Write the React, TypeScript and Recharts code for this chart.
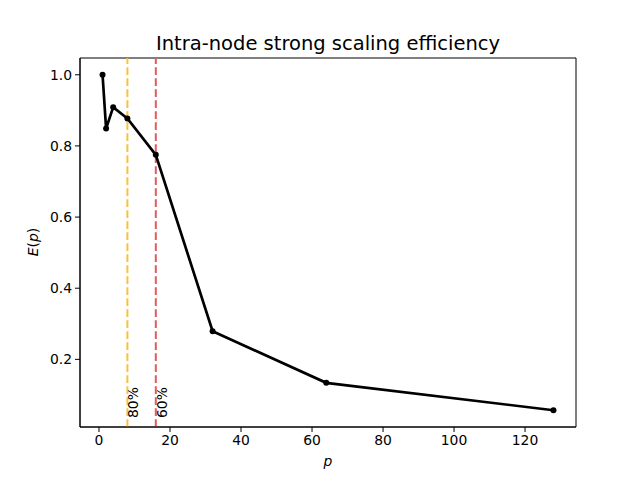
import { Line, LineChart, ReferenceArea, ReferenceLine, XAxis, YAxis } from "recharts";

const cores = [1, 2, 4, 8, 16, 32, 64, 128];
const efficiency = [1.0, 0.849, 0.909, 0.877, 0.775, 0.279, 0.134, 0.057];
const xTicks = [0, 20, 40, 60, 80, 100, 120];
const yTicks = [0.2, 0.4, 0.6, 0.8, 1.0];
const thresholds = [
  { p: 8, label: "80%", color: "#fbc13a" },
  { p: 16, label: "60%", color: "#e35a5c" },
];

const data = cores.map((p, i) => ({ p, e: efficiency[i] }));

// matplotlib-style 5% margins around the data
const xMin = Math.min(...cores);
const xMax = Math.max(...cores);
const yMin = Math.min(...efficiency);
const yMax = Math.max(...efficiency);
const xPad = (xMax - xMin) * 0.05;
const yPad = (yMax - yMin) * 0.05;
const xDomain = [xMin - xPad, xMax + xPad];
const yDomain = [yMin - yPad, yMax + yPad];

const FONT = "DejaVu Sans, sans-serif";
const tickStyle = { fill: "#000", fontSize: 13.9, fontFamily: FONT };

function ThresholdLabel(props: any) {
  const { viewBox, value } = props;
  const x = viewBox.x + 11;
  const y = viewBox.y + viewBox.height - 9;
  return (
    <text
      x={x}
      y={y}
      transform={`rotate(-90 ${x} ${y})`}
      fontSize={13.9}
      fontFamily={FONT}
      fill="#000"
    >
      {value}
    </text>
  );
}

export default function App() {
  return (
    <div style={{ width: 640, height: 480, position: "relative", background: "#fff" }}>
      <style>{`body{margin:0}`}</style>
      <svg
        width={640}
        height={60}
        style={{ position: "absolute", left: 0, top: 0 }}
      >
        <text
          x={328}
          y={50}
          textAnchor="middle"
          fontFamily={FONT}
          fontSize={19.5}
          fill="#000"
        >
          Intra-node strong scaling efficiency
        </text>
      </svg>
      <div
        style={{
          position: "absolute",
          top: 453,
          left: 0,
          width: 656,
          textAlign: "center",
          fontFamily: FONT,
          fontSize: 13.9,
          fontStyle: "italic",
        }}
      >
        p
      </div>
      <div
        style={{
          position: "absolute",
          left: 33,
          top: 242,
          transform: "translate(-50%, -50%) rotate(-90deg)",
          fontFamily: FONT,
          fontSize: 13.9,
          whiteSpace: "nowrap",
        }}
      >
        <i>E</i>(<i>p</i>)
      </div>
      <LineChart
        width={640}
        height={480}
        data={data}
        margin={{ top: 58, right: 64, bottom: 23, left: 30 }}
        style={{ position: "absolute", left: 0, top: 0 }}
      >
        <XAxis
          dataKey="p"
          type="number"
          domain={xDomain}
          ticks={xTicks}
          allowDataOverflow
          tick={tickStyle}
          tickSize={5}
          tickMargin={3}
          height={30}
          stroke="#000"
          tickLine={{ stroke: "#000" }}
        />
        <YAxis
          type="number"
          domain={yDomain}
          ticks={yTicks}
          allowDataOverflow
          tickFormatter={(v: number) => v.toFixed(1)}
          tick={tickStyle}
          tickSize={5}
          tickMargin={3}
          width={50}
          stroke="#000"
          tickLine={{ stroke: "#000" }}
        />
        <ReferenceArea
          x1={xDomain[0]}
          x2={xDomain[1]}
          y1={yDomain[0]}
          y2={yDomain[1]}
          fill="none"
          stroke="#000"
          strokeWidth={1}
          ifOverflow="visible"
        />
        {thresholds.map((t) => (
          <ReferenceLine
            key={t.label}
            x={t.p}
            stroke={t.color}
            strokeWidth={2}
            strokeDasharray="7.7 3.3"
            label={<ThresholdLabel value={t.label} />}
          />
        ))}
        <Line
          dataKey="e"
          type="linear"
          stroke="#000"
          strokeWidth={2.7}
          dot={{ r: 3, fill: "#000", stroke: "#000", strokeWidth: 0 }}
          isAnimationActive={false}
        />
      </LineChart>
    </div>
  );
}
